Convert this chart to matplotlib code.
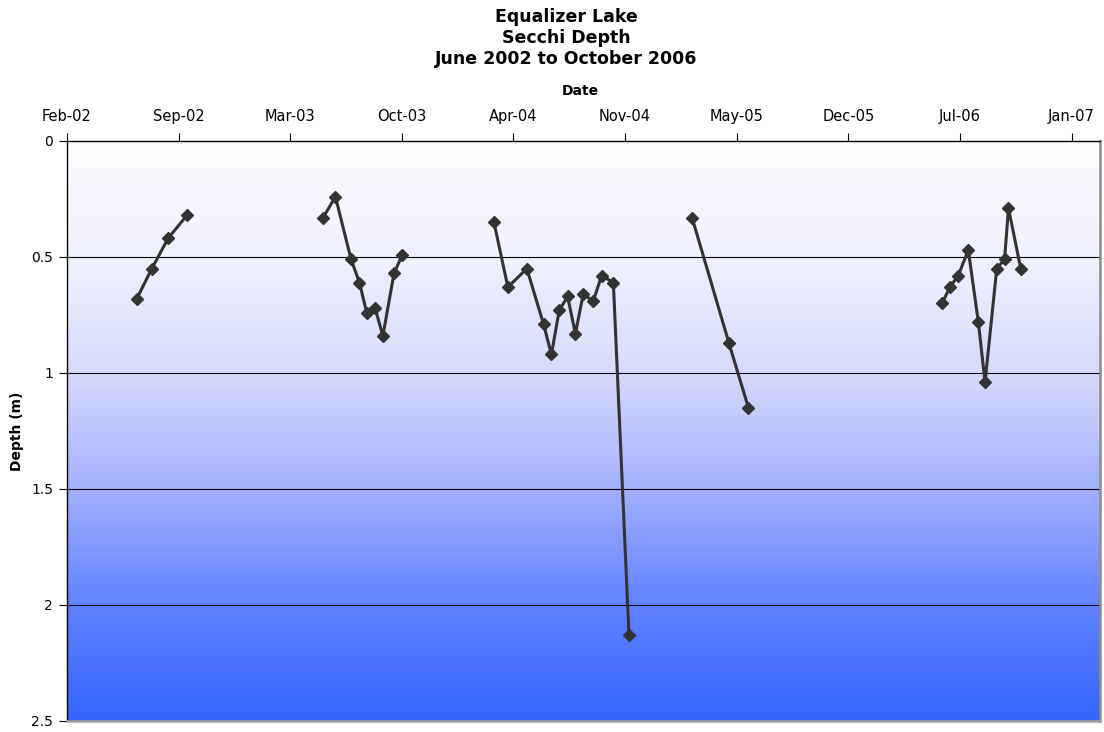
import matplotlib
matplotlib.use("Agg")
import matplotlib.pyplot as plt
import matplotlib.dates as mdates
import numpy as np
from matplotlib.colors import LinearSegmentedColormap
from datetime import date, timedelta

# ---- data ----
dates_2002 = ["2002-06-20", "2002-07-17", "2002-08-15", "2002-09-18"]
depth_2002 = [0.68, 0.55, 0.42, 0.32]

dates_2003 = ["2003-05-20", "2003-06-11", "2003-07-09", "2003-07-24", "2003-08-06",
              "2003-08-21", "2003-09-04", "2003-09-24", "2003-10-09"]
depth_2003 = [0.33, 0.24, 0.51, 0.61, 0.74, 0.72, 0.84, 0.57, 0.49]

dates_2004 = ["2004-03-21", "2004-04-15", "2004-05-19", "2004-06-18", "2004-07-02",
              "2004-07-16", "2004-07-31", "2004-08-14", "2004-08-28", "2004-09-15",
              "2004-09-30", "2004-10-21", "2004-11-18"]
depth_2004 = [0.35, 0.63, 0.55, 0.79, 0.92, 0.73, 0.67, 0.83, 0.66, 0.69,
              0.58, 0.61, 2.13]

dates_2005 = ["2005-03-11", "2005-05-16", "2005-06-20"]
depth_2005 = [0.33, 0.87, 1.15]

dates_2006 = ["2006-06-02", "2006-06-16", "2006-07-01", "2006-07-19", "2006-08-06",
              "2006-08-18", "2006-09-08", "2006-09-22", "2006-09-29", "2006-10-21"]
depth_2006 = [0.70, 0.63, 0.58, 0.47, 0.78, 1.04, 0.55, 0.51, 0.29, 0.55]

seasons = [(dates_2002, depth_2002), (dates_2003, depth_2003), (dates_2004, depth_2004),
           (dates_2005, depth_2005), (dates_2006, depth_2006)]

title_lines = ["Equalizer Lake", "Secchi Depth", "June 2002 to October 2006"]
x_label = "Date"
y_label = "Depth (m)"
y_ticks = [0, 0.5, 1, 1.5, 2, 2.5]
y_tick_labels = ["0", "0.5", "1", "1.5", "2", "2.5"]

# ---- figure ----
W, H = 1104, 732
fig = plt.figure(figsize=(W / 100, H / 100), dpi=100)
plt.rcParams['font.family'] = ['DejaVu Sans']

left_px, right_px, top_px, bot_px = 67, 1100, 141, 721
ax = fig.add_axes([left_px / W, 1 - bot_px / H, (right_px - left_px) / W, (bot_px - top_px) / H])

x_start = date(2002, 2, 15)
x_end = x_start + timedelta(days=1851)
ax.set_xlim(x_start, x_end)
ax.set_ylim(2.5, 0)

# gradient background
cmap = LinearSegmentedColormap.from_list("bg", [
    (0.0, (252 / 255, 252 / 255, 1.0)),
    (0.2, (240 / 255, 241 / 255, 1.0)),
    (0.4, (214 / 255, 219 / 255, 252 / 255)),
    (0.6, (163 / 255, 176 / 255, 1.0)),
    (0.8, (98 / 255, 130 / 255, 1.0)),
    (1.0, (51 / 255, 102 / 255, 1.0)),
])
grad = np.linspace(0, 1, 512).reshape(-1, 1)
ax.imshow(grad, aspect='auto', cmap=cmap, extent=[0, 1, 0, 1],
          transform=ax.transAxes, zorder=0, interpolation='bicubic')

# gridlines
for yv in y_ticks[1:-1]:
    ax.axhline(yv, color='black', lw=0.8, zorder=1)

# data
for d, v in seasons:
    xd = [date.fromisoformat(s) for s in d]
    ax.plot(xd, v, color='#333333', lw=2.2, marker='D', markersize=6.5,
            markerfacecolor='#333333', markeredgecolor='#333333', zorder=3)

# x axis on top
ticks = [x_start + timedelta(days=200 * k) for k in range(10)]
ax.set_xticks(ticks)
ax.xaxis.set_major_formatter(mdates.DateFormatter('%b-%y'))
ax.xaxis.tick_top()
ax.tick_params(axis='x', which='major', direction='out', length=6, width=0.8,
               pad=6, labelsize=10.5, colors='black')
ax.set_yticks(y_ticks)
ax.set_yticklabels(y_tick_labels)
ax.tick_params(axis='y', which='major', direction='out', length=6, width=0.8,
               pad=4, labelsize=10)

ax.spines['left'].set_color('black')
ax.spines['top'].set_color('black')
ax.spines['left'].set_linewidth(1.0)
ax.spines['top'].set_linewidth(1.0)
ax.spines['right'].set_color('#8c8c8c')
ax.spines['bottom'].set_color('#a0a0a0')
ax.spines['right'].set_linewidth(1.8)
ax.spines['bottom'].set_linewidth(1.8)

# texts
title_y = [17, 38, 59]
for t, yp in zip(title_lines, title_y):
    fig.text(566 / W, 1 - yp / H, t, ha='center', va='center',
             fontsize=12.5, fontweight='bold')
fig.text(580 / W, 1 - 91 / H, x_label, ha='center', va='center',
         fontsize=10, fontweight='bold')
fig.text(17 / W, 1 - 431 / H, y_label, ha='center', va='center',
         rotation=90, fontsize=10, fontweight='bold')

fig.savefig("out.png", dpi=100)
